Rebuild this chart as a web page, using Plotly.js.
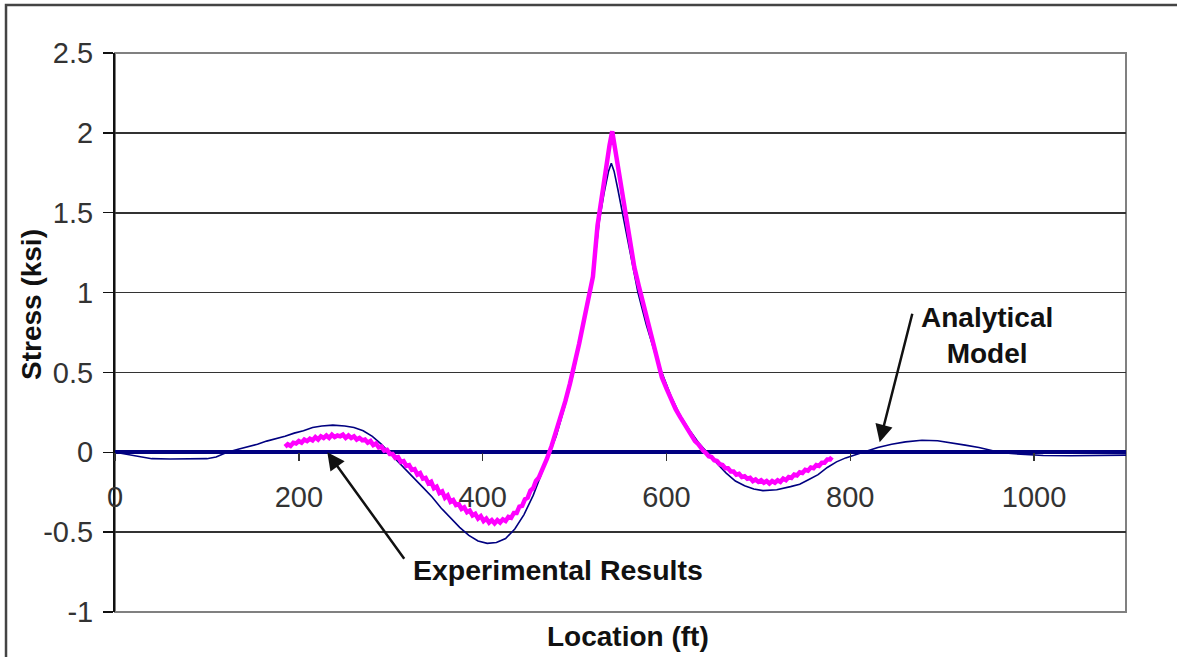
<!DOCTYPE html>
<html>
<head>
<meta charset="utf-8">
<script src="https://cdn.plot.ly/plotly-3.0.1.min.js"></script>
<style>html,body{margin:0;padding:0;background:#fff;}#chart{width:1177px;height:657px;}</style>
</head>
<body>
<div id="chart"></div>
<script>
// ---- data ----
const analyticalX = [0,10,20,30,40,60,80,100,110,122,135,145,155,165,175,185,195,205,215,225,237,250,260,270,280,290,298,305,315,325,335,345,355,365,375,385,395,405,415,425,435,445,455,465,473,480,490,499,508,517,522,527,532,537,540,543,547,552,560,569,578,587,595,605,615,625,635,644,655,665,675,685,695,705,720,735,745,755,765,775,785,795,805,814,830,845,860,878,895,910,925,940,952,962,975,990,1010,1040,1070,1100];
const analyticalY = [0,-0.01,-0.02,-0.03,-0.04,-0.042,-0.042,-0.04,-0.03,0,0.02,0.035,0.05,0.07,0.085,0.1,0.12,0.135,0.155,0.165,0.17,0.165,0.155,0.135,0.1,0.05,0,-0.04,-0.1,-0.16,-0.22,-0.28,-0.35,-0.41,-0.47,-0.52,-0.555,-0.57,-0.565,-0.54,-0.48,-0.39,-0.27,-0.12,0,0.1,0.3,0.5,0.75,1.0,1.2,1.45,1.62,1.76,1.81,1.76,1.65,1.5,1.25,1.0,0.8,0.63,0.5,0.35,0.23,0.14,0.06,0,-0.07,-0.13,-0.18,-0.21,-0.23,-0.24,-0.235,-0.215,-0.2,-0.17,-0.14,-0.095,-0.06,-0.035,-0.015,0,0.03,0.05,0.065,0.075,0.072,0.06,0.045,0.03,0.015,0,-0.008,-0.015,-0.02,-0.022,-0.02,-0.018];

const experimentalX = [185,188,191,194,197,200,203,206,209,212,215,218,221,224,227,230,233,236,239,242,245,248,251,254,257,260,263,266,269,272,275,278,281,284,287,290,293,296,299,302,305,308,311,314,317,320,323,326,329,332,335,338,341,344,347,350,353,356,359,362,365,368,371,374,377,380,383,386,389,392,395,398,401,404,407,410,413,416,419,422,425,428,431,434,437,440,443,446,449,452,455,458,461,464,467,470,475,480,485,490,495,500,505,510,515,520,525,530,535,538,541,544,547,550,555,560,565,570,575,580,585,590,595,600,605,610,615,620,625,628,631,634,637,640,643,646,649,652,655,658,661,664,667,670,673,676,679,682,685,688,691,694,697,700,703,706,709,712,715,718,721,724,727,730,733,736,739,742,745,748,751,754,757,760,763,766,769,772,775,778,780];
const experimentalY = [0.035,0.05,0.04,0.06,0.055,0.07,0.06,0.08,0.07,0.085,0.075,0.095,0.08,0.1,0.09,0.105,0.09,0.11,0.095,0.105,0.1,0.11,0.09,0.105,0.09,0.1,0.08,0.09,0.075,0.08,0.06,0.07,0.045,0.055,0.03,0.035,0.01,0.015,-0.01,-0.01,-0.035,-0.03,-0.06,-0.055,-0.085,-0.08,-0.11,-0.105,-0.14,-0.13,-0.165,-0.16,-0.195,-0.185,-0.225,-0.215,-0.255,-0.245,-0.285,-0.27,-0.31,-0.3,-0.33,-0.325,-0.355,-0.345,-0.375,-0.365,-0.395,-0.385,-0.415,-0.4,-0.43,-0.415,-0.44,-0.425,-0.445,-0.425,-0.44,-0.42,-0.43,-0.405,-0.41,-0.38,-0.38,-0.34,-0.335,-0.295,-0.285,-0.24,-0.225,-0.18,-0.16,-0.12,-0.09,-0.04,0.04,0.13,0.22,0.32,0.43,0.55,0.68,0.82,0.95,1.1,1.42,1.63,1.84,1.92,2.01,1.9,1.8,1.68,1.5,1.33,1.16,1.04,0.92,0.8,0.68,0.57,0.47,0.4,0.33,0.27,0.22,0.17,0.12,0.1,0.07,0.055,0.03,0.01,-0.005,-0.025,-0.03,-0.05,-0.055,-0.075,-0.08,-0.1,-0.1,-0.12,-0.12,-0.14,-0.135,-0.155,-0.15,-0.165,-0.16,-0.18,-0.17,-0.185,-0.175,-0.19,-0.18,-0.195,-0.18,-0.19,-0.175,-0.185,-0.165,-0.175,-0.155,-0.16,-0.14,-0.145,-0.125,-0.13,-0.11,-0.115,-0.095,-0.1,-0.08,-0.085,-0.065,-0.065,-0.045,-0.045,-0.03,-0.025,-0.015];

const xTickVals = [0,200,400,600,800,1000];
const xTickText = ['0','200','400','600','800','1000'];
const yTickVals = [-1,-0.5,0,0.5,1,1.5,2,2.5];
const yTickText = ['-1','-0.5','0','0.5','1','1.5','2','2.5'];

const xRange = [0,1100];
const yRange = [-1,2.5];

const FONT = 'Liberation Sans, Arial, sans-serif';

const traces = [
  {x: analyticalX, y: analyticalY, type:'scatter', mode:'lines', name:'Analytical Model',
   line:{color:'#000080', width:1.6}},
  {x: experimentalX, y: experimentalY, type:'scatter', mode:'lines', name:'Experimental Results',
   line:{color:'#ff00ff', width:4.5}}
];

const layout = {
  width:1177, height:657,
  margin:{l:115, r:51, t:53, b:45, pad:0},
  paper_bgcolor:'#ffffff', plot_bgcolor:'#ffffff',
  showlegend:false,
  font:{family:FONT, color:'#222'},
  xaxis:{
    range:xRange, tickvals:xTickVals, ticktext:xTickText,
    anchor:'free', position:(0 - yRange[0])/(yRange[1]-yRange[0]),
    showgrid:false, zeroline:false, showline:false,
    ticks:'outside', ticklen:8, tickwidth:1.5, tickcolor:'#333',
    tickfont:{size:29, color:'#333', family:FONT},
    ticklabelstandoff:11
  },
  yaxis:{
    range:yRange, tickvals:yTickVals, ticktext:yTickText,
    showgrid:true, gridcolor:'#333333', gridwidth:1.8,
    zeroline:true, zerolinecolor:'#000080', zerolinewidth:4,
    showline:true, linecolor:'#111', linewidth:2,
    ticks:'outside', ticklen:10, tickwidth:1.5, tickcolor:'#111',
    tickfont:{size:29, color:'#333', family:FONT},
    ticklabelstandoff:4
  },
  shapes:[
    {type:'rect', xref:'paper', yref:'paper', x0:0, x1:1, y0:0, y1:1,
     line:{color:'#808080', width:2}, layer:'below'},
    {type:'rect', xref:'paper', yref:'paper', x0:-0.1078, x1:1.15, y0:-0.15, y1:1.0859,
     line:{color:'#444', width:2.5}, layer:'below'}
  ],
  annotations:[
    {text:'<b>Location (ft)</b>', xref:'paper', yref:'paper', x:0.5074, y:-0.0447,
     showarrow:false, font:{size:28, color:'#111', family:FONT}, xanchor:'center', yanchor:'middle'},
    {text:'<b>Stress (ksi)</b>', xref:'paper', yref:'paper', x:-0.0821, y:0.551,
     showarrow:false, textangle:-90, font:{size:28, color:'#111', family:FONT}, xanchor:'center', yanchor:'middle'},
    {text:'<b>Analytical<br>Model</b>', xref:'x', yref:'y', x:949, y:0.733,
     showarrow:false, font:{size:28, color:'#111', family:FONT}, xanchor:'center', yanchor:'middle'},
    {text:'<b>Experimental Results</b>', xref:'x', yref:'y', x:482, y:-0.739,
     showarrow:false, font:{size:28.5, color:'#111', family:FONT}, xanchor:'center', yanchor:'middle'},
    {text:'', xref:'x', yref:'y', x:832, y:0.063, ax:33, ay:-130,
     showarrow:true, arrowhead:2, arrowsize:1.4, arrowwidth:2.5, arrowcolor:'#111'},
    {text:'', xref:'x', yref:'y', x:231, y:0.0, ax:78, ay:108,
     showarrow:true, arrowhead:2, arrowsize:1.4, arrowwidth:2.5, arrowcolor:'#111'}
  ]
};

Plotly.newPlot('chart', traces, layout, {staticPlot:true, displayModeBar:false});
</script>
</body>
</html>
